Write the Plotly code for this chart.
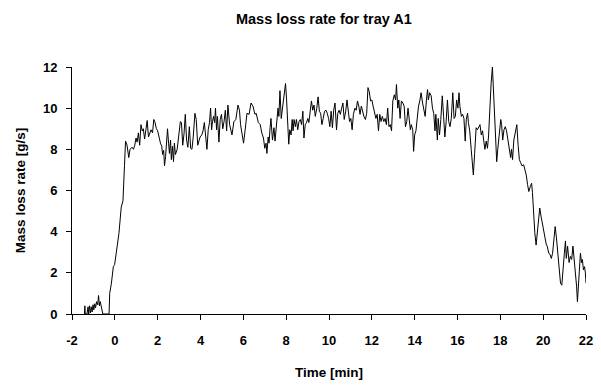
import plotly.graph_objects as go

time_min = [
    -1.42, -1.40, -1.38, -1.30, -1.25, -1.22, -1.18, -1.14, -1.10, -1.06, -1.02, -0.98,
    -0.94, -0.90, -0.85, -0.80, -0.76, -0.72, -0.68, -0.62, -0.56, -0.27, -0.24, -0.16,
    -0.11, -0.07, -0.01, 0.10, 0.19, 0.30, 0.38, 0.45, 0.50,
    0.57, 0.65, 0.71, 0.80, 0.87, 0.93, 0.99, 1.04, 1.10, 1.16, 1.22, 1.28, 1.33, 1.39,
    1.45, 1.51, 1.57, 1.63, 1.69, 1.76, 1.82, 1.88, 1.94, 2.00, 2.06, 2.13, 2.19, 2.23,
    2.28, 2.32, 2.37, 2.42, 2.46, 2.51, 2.55, 2.60, 2.64, 2.69, 2.74, 2.78, 2.83, 2.91,
    2.98, 3.06, 3.11, 3.17, 3.23, 3.29, 3.35, 3.41, 3.48, 3.54, 3.60, 3.66, 3.74, 3.80,
    3.87, 3.92, 3.98, 4.06, 4.12, 4.18, 4.24, 4.30, 4.36, 4.42, 4.47, 4.52, 4.56, 4.61,
    4.66, 4.70, 4.75, 4.79, 4.86, 4.92, 4.98, 5.04, 5.10, 5.16, 5.22, 5.28, 5.36, 5.47,
    5.56, 5.65, 5.75, 5.82, 5.87, 5.93, 6.01, 6.08, 6.17, 6.27, 6.36, 6.45, 6.54, 6.60,
    6.70, 6.79, 6.86, 6.94, 7.00, 7.06, 7.10, 7.16, 7.20, 7.25, 7.29, 7.36, 7.43, 7.48,
    7.56, 7.62, 7.66, 7.71, 7.77, 7.85, 7.89, 7.97, 8.02, 8.08, 8.12, 8.17, 8.23, 8.28,
    8.32, 8.37, 8.43, 8.48, 8.54, 8.60, 8.66, 8.72, 8.78, 8.83, 8.89, 8.95, 9.01, 9.06,
    9.12, 9.18, 9.24, 9.30, 9.36, 9.43, 9.49, 9.55, 9.61, 9.67, 9.73, 9.79, 9.86, 9.92,
    9.98, 10.04, 10.10, 10.16, 10.22, 10.28, 10.35, 10.41, 10.47, 10.53, 10.59, 10.65,
    10.71, 10.78, 10.84, 10.90, 10.96, 11.02, 11.08, 11.14, 11.21, 11.27, 11.33, 11.39,
    11.45, 11.51, 11.57, 11.63, 11.70, 11.76, 11.82, 11.88, 11.94, 12.00, 12.06, 12.13,
    12.19, 12.25, 12.31, 12.37, 12.43, 12.49, 12.56, 12.62, 12.68, 12.74, 12.80, 12.86,
    12.92, 12.98, 13.05, 13.11, 13.15, 13.21, 13.26, 13.32, 13.38, 13.45, 13.51, 13.57,
    13.63, 13.69, 13.75, 13.80, 13.84, 13.91, 13.95, 14.00, 14.06, 14.12, 14.18, 14.24,
    14.30, 14.37, 14.43, 14.49, 14.55, 14.60, 14.64, 14.70, 14.77, 14.83, 14.89, 14.95,
    14.99, 15.06, 15.10, 15.16, 15.22, 15.29, 15.35, 15.41, 15.47, 15.53, 15.59, 15.65,
    15.71, 15.78, 15.84, 15.90, 15.96, 16.02, 16.07, 16.11, 16.18, 16.24, 16.30, 16.36,
    16.41, 16.47, 16.51, 16.57, 16.64, 16.70, 16.74, 16.80, 16.87, 16.93, 16.99, 17.05,
    17.11, 17.17, 17.22, 17.28, 17.34, 17.40, 17.45, 17.51, 17.57, 17.63, 17.68, 17.72,
    17.77, 17.83, 17.88, 17.94, 18.02, 18.06, 18.11, 18.17, 18.23, 18.29, 18.34, 18.38,
    18.43, 18.48, 18.52, 18.57, 18.63, 18.71, 18.77, 18.83, 18.89, 18.95, 19.01, 19.09,
    19.15, 19.21, 19.27, 19.33, 19.40, 19.46, 19.50, 19.55, 19.61, 19.67, 19.73, 19.79,
    19.84, 19.90, 19.96, 20.02, 20.09, 20.15, 20.19, 20.26, 20.32, 20.38, 20.44, 20.50,
    20.56, 20.62, 20.69, 20.75, 20.81, 20.87, 20.93, 20.99, 21.04, 21.08, 21.14, 21.21,
    21.27, 21.33, 21.39, 21.45, 21.51, 21.56, 21.60, 21.65, 21.70, 21.74, 21.79, 21.83,
    21.88, 21.93, 21.97, 22.00,
]

mass_loss_rate = [
    0.0, 0.4, 0.0, 0.0, 0.35, 0.0, 0.4, 0.05, 0.35, 0.1, 0.45, 0.2,
    0.5, 0.3, 0.6, 0.45, 0.9, 0.4, 0.6, 0.3, 0.0, 0.0, 1.0, 1.5,
    2.2, 2.3, 2.4, 3.3, 3.9, 5.2, 5.5, 7.2, 8.4,
    8.2, 7.6, 8.0, 8.1, 8.0, 8.2, 8.55, 8.35, 8.8, 8.2, 9.2, 8.9, 9.0, 8.5,
    8.95, 9.4, 8.6, 8.8, 8.95, 8.8, 9.45, 9.3, 9.0, 8.9, 8.6, 8.3, 8.15, 7.75,
    7.95, 7.2, 7.65, 8.2, 9.0, 8.3, 7.8, 8.45, 7.5, 8.15, 7.4, 8.3, 7.75, 8.0,
    8.75, 9.35, 9.3, 8.2, 8.75, 9.7, 8.45, 8.1, 9.1, 8.05, 8.0, 8.6, 9.75, 9.45,
    8.2, 8.45, 8.6, 8.7, 8.9, 9.3, 8.45, 8.0, 8.95, 9.3, 10.0, 8.95, 9.35, 9.6,
    9.3, 10.0, 8.95, 9.6, 8.35, 9.45, 9.7, 9.0, 9.35, 9.9, 8.9, 10.15, 9.2, 8.7,
    9.35, 9.45, 10.15, 9.9, 9.2, 8.7, 8.3, 8.9, 9.75, 9.7, 10.25, 10.1, 9.7, 9.75,
    9.3, 9.2, 8.8, 8.55, 8.05, 8.3, 7.8, 8.6, 8.3, 9.05, 9.5, 8.45, 9.05, 8.4,
    9.2, 10.0, 9.6, 10.85, 9.5, 10.15, 10.35, 11.2, 10.4, 9.05, 8.25, 8.95, 8.7, 9.45,
    8.9, 9.45, 9.1, 9.45, 8.95, 9.35, 9.45, 9.2, 9.85, 8.55, 9.2, 9.3, 9.5, 9.3,
    9.9, 10.35, 9.9, 10.15, 9.6, 10.0, 10.55, 9.85, 9.75, 9.2, 9.5, 9.85, 9.9, 9.75,
    9.5, 9.1, 9.85, 9.05, 9.9, 10.25, 8.95, 9.75, 9.9, 9.7, 10.0, 10.25,
    9.45, 9.85, 10.4, 9.7, 9.35, 9.5, 8.95, 9.7, 10.0, 9.9, 10.35, 10.1,
    9.7, 10.1, 9.75, 9.6, 9.45, 9.75, 11.0, 10.8, 10.35, 10.4, 10.1, 9.75,
    9.5, 9.7, 8.9, 9.7, 9.35, 9.6, 9.35, 9.5, 9.2, 10.0, 9.1, 9.2,
    8.9, 10.35, 10.65, 10.4, 11.15, 10.0, 10.4, 9.5, 10.35, 10.25, 10.1, 9.1,
    9.35, 10.0, 9.5, 8.95, 9.2, 8.95, 7.9, 8.7, 8.9, 9.7, 10.1, 10.35,
    10.75, 10.25, 9.85, 9.6, 10.4, 10.9, 10.4, 10.75, 10.6, 10.0, 9.75, 8.9,
    9.7, 8.45, 9.5, 8.7, 9.45, 10.6, 9.6, 8.6, 9.35, 10.4, 9.35, 9.1,
    9.5, 10.75, 9.5, 9.6, 10.4, 10.0, 10.75, 10.1, 9.6, 9.7, 9.5, 8.4,
    9.45, 9.75, 9.3, 8.9, 8.0, 7.35, 6.75, 7.8, 9.05, 8.95, 9.1, 9.2,
    8.7, 8.9, 8.45, 8.0, 8.4, 8.05, 8.65, 10.4, 11.2, 12.0, 10.9, 9.6,
    8.15, 7.4, 8.0, 8.7, 9.45, 9.2, 8.45, 8.95, 9.1, 8.9, 8.55, 8.2,
    7.9, 7.6, 8.0, 7.5, 8.45, 8.95, 9.2, 8.2, 7.5, 7.35, 7.2, 7.25,
    7.0, 6.75, 6.3, 5.95, 6.2, 6.35, 5.9, 4.75, 3.95, 3.35, 3.95, 4.6,
    5.15, 4.75, 4.4, 3.95, 3.6, 3.35, 3.3, 2.95, 2.9, 2.7, 2.95, 3.6,
    4.25, 3.7, 2.8, 2.3, 1.5, 1.4, 2.0, 2.95, 3.55, 2.7, 3.3, 2.5,
    2.8, 2.65, 3.3, 2.65, 2.0, 1.35, 0.6, 1.65, 2.3, 2.95, 2.5, 2.65,
    2.15, 2.3, 2.0, 1.5,
]

x_ticks = [-2, 0, 2, 4, 6, 8, 10, 12, 14, 16, 18, 20, 22]
y_ticks = [0, 2, 4, 6, 8, 10, 12]

FONT = "Liberation Sans, Arial, Helvetica, sans-serif"

fig = go.Figure()
fig.add_trace(go.Scatter(
    x=time_min, y=mass_loss_rate, mode="lines",
    line=dict(color="black", width=1),
    hoverinfo="skip", showlegend=False,
))

axis_common = dict(
    showgrid=False, zeroline=False, showline=True, linecolor="black", linewidth=1,
    ticks="outside", ticklen=5, tickwidth=1, tickcolor="black",
    tickfont=dict(family=FONT, size=13, color="black", weight="bold"),
)

fig.update_layout(
    width=601, height=385,
    margin=dict(l=72, r=8, t=67, b=71),
    paper_bgcolor="white", plot_bgcolor="white",
    title=dict(text="Mass loss rate for tray A1", x=0.539, xanchor="center",
               y=0.95, yanchor="middle",
               font=dict(family=FONT, size=14.5, color="black", weight="bold")),
    xaxis=dict(range=[-2, 22], tickvals=x_ticks, ticktext=[str(v) for v in x_ticks],
               ticklabelstandoff=9,
               title=dict(text="Time [min]", standoff=20,
                          font=dict(family=FONT, size=13.5, color="black", weight="bold")),
               **axis_common),
    yaxis=dict(range=[0, 12], tickvals=y_ticks, ticktext=[str(v) for v in y_ticks],
               ticklabelstandoff=6,
               title=dict(text="Mass loss rate [g/s]", standoff=14,
                          font=dict(family=FONT, size=13.5, color="black", weight="bold")),
               **axis_common),
)

fig.write_html("out.html")
